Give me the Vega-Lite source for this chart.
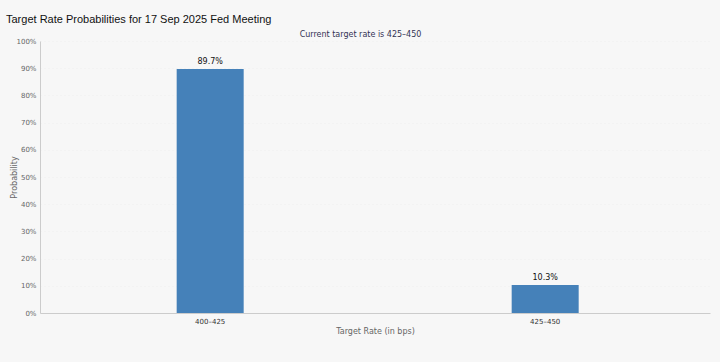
{
  "$schema": "https://vega.github.io/schema/vega-lite/v6.json",
  "width": 670,
  "height": 272,
  "autosize": {"type": "none"},
  "padding": {"left": 40, "top": 41, "right": 10, "bottom": 49},
  "background": "#f7f7f7",
  "title": {
    "text": "Target Rate Probabilities for 17 Sep 2025 Fed Meeting",
    "anchor": "start",
    "frame": "group",
    "dx": -34,
    "offset": 5,
    "font": "Liberation Sans",
    "fontSize": 11,
    "fontWeight": "normal",
    "color": "#111111"
  },
  "config": {
    "view": {"stroke": null},
    "axis": {"labelFont": "DejaVu Sans", "titleFont": "DejaVu Sans"}
  },
  "data": {
    "values": [
      {"rate": "400–425", "prob": 0.897, "label": "89.7%"},
      {"rate": "425–450", "prob": 0.103, "label": "10.3%"}
    ]
  },
  "encoding": {
    "x": {
      "field": "rate",
      "type": "nominal",
      "sort": null,
      "scale": {"paddingInner": 0.8, "paddingOuter": 0.4, "align": 0.51},
      "axis": {
        "title": "Target Rate (in bps)",
        "labelAngle": 0,
        "labelFontSize": 7,
        "labelColor": "#333333",
        "labelPadding": 4,
        "ticks": false,
        "domainColor": "#cccccc",
        "titleFontSize": 8,
        "titleFontWeight": "normal",
        "titleColor": "#666666",
        "titlePadding": 3
      }
    },
    "y": {
      "field": "prob",
      "type": "quantitative",
      "scale": {"domain": [0, 1]},
      "axis": {
        "title": "Probability",
        "values": [0, 0.1, 0.2, 0.3, 0.4, 0.5, 0.6, 0.7, 0.8, 0.9, 1],
        "format": ".0%",
        "labelOverlap": false,
        "labelFontSize": 7,
        "labelColor": "#666666",
        "labelPadding": 4,
        "ticks": false,
        "domainColor": "#cccccc",
        "gridColor": "#eeeeee",
        "gridDash": [1, 3],
        "titleFontSize": 8,
        "titleFontWeight": "normal",
        "titleColor": "#666666",
        "titlePadding": -3
      }
    }
  },
  "layer": [
    {
      "mark": {"type": "bar", "color": "#4581b9"}
    },
    {
      "mark": {"type": "text", "dy": -7, "font": "DejaVu Sans", "fontSize": 8, "color": "#111111"},
      "encoding": {
        "text": {"field": "label"},
        "x": {
          "field": "rate",
          "type": "nominal",
          "sort": null,
          "axis": {
            "orient": "top",
            "title": "Current target rate is 425–450",
            "labels": false,
            "ticks": false,
            "domain": false,
            "titleFontSize": 8,
            "titleFontWeight": "normal",
            "titleColor": "#333355",
            "titlePadding": 3,
            "titleX": 320
          }
        }
      }
    }
  ],
  "resolve": {"axis": {"x": "independent"}}
}
